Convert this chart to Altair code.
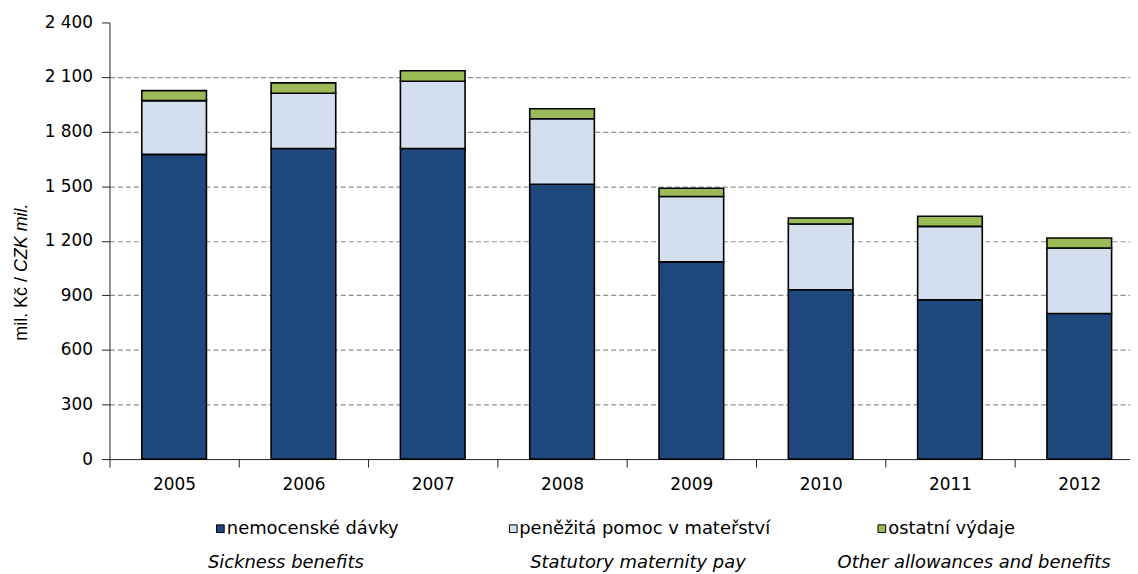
import altair as alt
import pandas as pd

years = ["2005", "2006", "2007", "2008", "2009", "2010", "2011", "2012"]
sickness = [1675, 1707, 1707, 1511, 1084, 931, 876, 800]
maternity = [295, 304, 370, 360, 359, 361, 403, 360]
other = [55, 57, 57, 55, 46, 33, 56, 55]

series_cz = ["nemocenské dávky", "peněžitá pomoc v mateřství", "ostatní výdaje"]
series_en = ["Sickness benefits", "Statutory maternity pay", "Other allowances and benefits"]
colors = ["#1F497D", "#D3DFEE", "#9BBB59"]

y_ticks = [0, 300, 600, 900, 1200, 1500, 1800, 2100, 2400]
title_cz = "mil. Kč /"
title_en = "CZK mil."

FONT = "DejaVu Sans"

rows = []
for i, yr in enumerate(years):
    for k, vals in enumerate([sickness, maternity, other]):
        rows.append({"year": yr, "series": series_cz[k], "order": k, "value": vals[i]})
df = pd.DataFrame(rows)

y_axis = alt.Axis(
    title=None,
    values=y_ticks,
    labelExpr="replace(format(datum.value, ','), ',', ' ')",
    labelFont=FONT,
    labelFontSize=17,
    labelColor="#000000",
    labelPadding=9,
    tickSize=8,
    tickColor="#222222",
    domainColor="#222222",
    grid=True,
    gridColor="#8c8c8c",
    gridDash=[5, 3],
    gridWidth=1.2,
    gridOpacity={"condition": {"test": "datum.value <= 0 || datum.value >= 2400", "value": 0}, "value": 1},
)

bars = alt.Chart(df).mark_bar(stroke="#000000", strokeWidth=1.6).encode(
    x=alt.X(
        "year:N",
        sort=years,
        scale=alt.Scale(range=[0, 1040], paddingInner=0.5, paddingOuter=0.25),
        axis=alt.Axis(
            title=None,
            labelAngle=0,
            labelFont=FONT,
            labelFontSize=17,
            labelColor="#000000",
            labelPadding=10,
            tickSize=8,
            tickOffset=-65,
            labelOffset=65,
            tickColor="#222222",
            domainColor="#222222",
            grid=False,
        ),
    ),
    y=alt.Y("value:Q", stack="zero", scale=alt.Scale(domain=[0, 2400], nice=False), axis=y_axis),
    color=alt.Color("series:N", scale=alt.Scale(domain=series_cz, range=colors), legend=None),
    order=alt.Order("order:Q", sort="ascending"),
)

layers = [bars]

# y-axis title (two parts, the English part in italics)
t1 = alt.Chart(pd.DataFrame({"t": [title_cz]})).mark_text(
    angle=270, align="right", baseline="middle", font="Liberation Sans", fontSize=18, color="#000000"
).encode(text="t:N", x=alt.value(-88), y=alt.value(256))
t2 = alt.Chart(pd.DataFrame({"t": [title_en]})).mark_text(
    angle=270, align="left", baseline="middle", font="Liberation Sans", fontSize=18,
    fontStyle="italic", color="#000000"
).encode(text="t:N", x=alt.value(-88), y=alt.value(251))
layers += [t1, t2]

# custom legend
sq_x = [111.5, 406, 776.5]
lab_x = [118, 412, 783]
en_x = [99, 423, 732]
row1_y = 509
row2_y = 543
for i in range(3):
    d = pd.DataFrame({"cz": [series_cz[i]], "en": [series_en[i]]})
    sq = alt.Chart(d).mark_square(size=60, filled=True, stroke="#000000", strokeWidth=1, opacity=1).encode(
        x=alt.value(sq_x[i]), y=alt.value(row1_y), fill=alt.value(colors[i])
    )
    l1 = alt.Chart(d).mark_text(align="left", baseline="middle", font=FONT, fontSize=18, color="#000000").encode(
        text="cz:N", x=alt.value(lab_x[i]), y=alt.value(row1_y)
    )
    l2 = alt.Chart(d).mark_text(
        align="left", baseline="middle", font=FONT, fontSize=18, fontStyle="italic", color="#000000"
    ).encode(text="en:N", x=alt.value(en_x[i]), y=alt.value(row2_y))
    layers += [sq, l1, l2]

chart = alt.layer(*layers).properties(
    width=1026,
    height=439,
    background="white",
    autosize=alt.AutoSizeParams(type="none"),
    padding={"left": 102, "top": 13, "right": 0, "bottom": 112},
).configure_view(stroke=None)

chart.save("out.html", embed_options={"renderer": "svg", "actions": False})
